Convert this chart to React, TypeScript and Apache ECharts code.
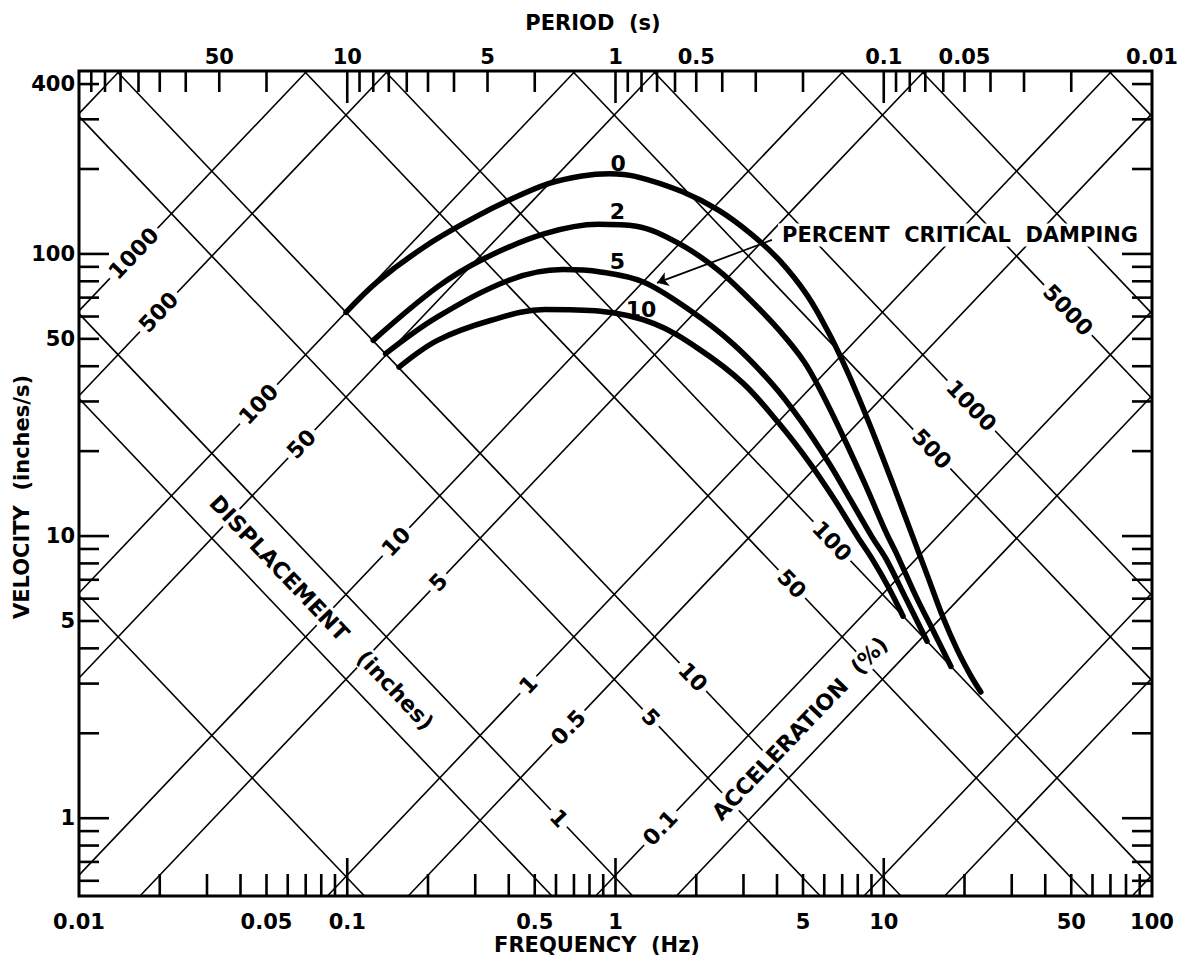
import React, { useEffect, useRef } from "react";
import * as echarts from "echarts";

// ---------- axis ranges ----------
const FREQ_MIN = 0.01;
const FREQ_MAX = 100;
const VEL_MIN = 0.53;
const VEL_MAX = 445;
const G_IN_PER_S2 = 386.09;
const TWO_PI = 2 * Math.PI;
const FONT = '"DejaVu Sans", "Noto Sans", sans-serif';

// ---------- ticks & tick labels ----------
const freqTicks = [0.02, 0.03, 0.04, 0.05, 0.06, 0.07, 0.08, 0.09, 0.1, 0.2, 0.3, 0.4, 0.5, 0.6, 0.7, 0.8, 0.9, 1, 2, 3, 4, 5, 6, 7, 8, 9, 10, 20, 30, 40, 50, 60, 70, 80, 90];
const freqMajor = [0.1, 1, 10];
const freqLabelValues = [0.01, 0.05, 0.1, 0.5, 1, 5, 10, 50, 100];
const freqLabelTexts = ["0.01", "0.05", "0.1", "0.5", "1", "5", "10", "50", "100"];

const periodTicks = [90, 80, 70, 60, 50, 40, 30, 20, 10, 9, 8, 7, 6, 5, 4, 3, 2, 1, 0.9, 0.8, 0.7, 0.6, 0.5, 0.4, 0.3, 0.2, 0.1, 0.09, 0.08, 0.07, 0.06, 0.05, 0.04, 0.03, 0.02];
const periodMajor = [10, 1, 0.1];
const periodLabelAt = [30, 10, 3, 1, 0.5, 0.1, 0.05, 0.01];
const periodLabelTexts = ["50", "10", "5", "1", "0.5", "0.1", "0.05", "0.01"];

const velTicks = [0.6, 0.7, 0.8, 0.9, 1, 2, 3, 4, 5, 6, 7, 8, 9, 10, 20, 30, 40, 50, 60, 70, 80, 90, 100, 200, 300, 400];
const velMajor = [1, 10, 100];
const velLabelValues = [400, 100, 50, 10, 5, 1];
const velLabelTexts = ["400", "100", "50", "10", "5", "1"];

// ---------- tripartite grid ----------
const dispGridValues = [0.001, 0.005, 0.01, 0.05, 0.1, 0.5, 1, 5, 10, 50, 100, 500, 1000, 5000]; // inches
const accGridValues = [0.1, 0.5, 1, 5, 10, 50, 100, 500, 1000, 5000, 10000, 50000]; // percent g

const dispLabelTexts = ["1000", "500", "100", "50", "10", "5", "1", "0.5", "0.1"];
const dispLabelValues = [1000, 500, 100, 50, 10, 5, 1, 0.5, 0.1];
const dispLabelFreq = [0.016, 0.0198, 0.0467, 0.0675, 0.152, 0.2185, 0.473, 0.667, 1.469];

const accLabelTexts = ["5000", "1000", "500", "100", "50", "10", "5", "1"];
const accLabelValues = [5000, 1000, 500, 100, 50, 10, 5, 1];
const accLabelFreq = [48.6, 21.2, 15.1, 6.41, 4.54, 1.942, 1.353, 0.615];

// ---------- response spectra (frequency Hz, velocity in/s) ----------
const damp0Freq = [0.0989, 0.13, 0.2, 0.3, 0.4, 0.562, 0.75, 0.95, 1.195, 1.778, 2.42, 3.19, 4.08, 5.2, 6.27, 7.08, 8.0, 9.33, 10.9, 12.7, 14.5, 16.7, 18.8, 21.1, 23.0];
const damp0Vel = [62.1, 80, 108, 135, 155, 177.5, 189, 192.5, 188, 166, 142.9, 118, 95, 71, 52, 41, 31.5, 22, 15, 10.2, 7.3, 5.1, 3.95, 3.2, 2.8];

const damp2Freq = [0.125, 0.217, 0.323, 0.545, 0.863, 1.195, 1.727, 2.42, 3.19, 4.08, 5.05, 5.89, 7.08, 8.51, 10.2, 11.2, 13.2, 15.5, 17.8];
const damp2Vel = [49.4, 76.4, 96.2, 118, 127.4, 125.4, 108.8, 87.5, 68.5, 53.6, 41.5, 32, 22.4, 15.3, 10.3, 8.6, 6.1, 4.5, 3.45];

const damp5Freq = [0.139, 0.217, 0.401, 0.635, 0.879, 1.27, 1.894, 2.735, 3.83, 4.9, 6.27, 7.53, 9.05, 10.2, 12.0, 14.5];
const damp5Vel = [44.3, 59.8, 80.7, 88, 86.3, 79.5, 63.1, 48.1, 34.7, 25.7, 18.05, 13.4, 9.92, 8.3, 6.1, 4.24];

const damp10Freq = [0.156, 0.217, 0.344, 0.545, 0.879, 1.393, 2.075, 3.0, 4.08, 5.21, 6.46, 8.0, 9.05, 10.4, 11.8];
const damp10Vel = [39.7, 49.4, 58.2, 63.5, 62.6, 56.6, 45.6, 34.7, 25.0, 18.55, 13.75, 9.92, 8.3, 6.6, 5.2];

const dampLabelTexts = ["0", "2", "5", "10"];
const dampLabelFreq = [1.024, 1.017, 1.017, 1.245];
const dampLabelVel = [209.6, 141.2, 93.9, 63.5];

const noteText = "PERCENT  CRITICAL  DAMPING";
const notePos = [4.035, 116.8];
const arrowFrom = [3.83, 112.1];
const arrowTo = [1.428, 78.96];

const dispTitle = "DISPLACEMENT   (inches)";
const dispTitlePos = [0.0802, 5.35];
const accTitle = "ACCELERATION  (%)";
const accTitlePos = [4.87, 2.08];

// ---------- helpers ----------
function dispSegment(D: number) {
  const fLo = Math.max(FREQ_MIN, VEL_MIN / (TWO_PI * D));
  const fHi = Math.min(FREQ_MAX, VEL_MAX / (TWO_PI * D));
  if (fLo >= fHi) return null;
  return [[fLo, TWO_PI * fLo * D], [fHi, TWO_PI * fHi * D]];
}
function accSegment(A: number) {
  const a = (A / 100) * G_IN_PER_S2;
  const fLo = Math.max(FREQ_MIN, a / (TWO_PI * VEL_MAX));
  const fHi = Math.min(FREQ_MAX, a / (TWO_PI * VEL_MIN));
  if (fLo >= fHi) return null;
  return [[fLo, a / (TWO_PI * fLo)], [fHi, a / (TWO_PI * fHi)]];
}

function diagAngle(api: any) {
  const a = api.coord([1, 1]);
  const b = api.coord([10, 10]);
  return Math.atan2(a[1] - b[1], b[0] - a[0]);
}

function textSeries(points: number[][], texts: string[], cfg: any) {
  return {
    type: "custom",
    silent: true,
    clip: false,
    z: cfg.z ?? 6,
    data: points,
    renderItem: (params: any, api: any) => {
      const p = api.coord([api.value(0), api.value(1)]);
      let rotation = 0;
      if (cfg.rot === "disp") rotation = diagAngle(api);
      else if (cfg.rot === "acc") rotation = -diagAngle(api);
      const style: any = {
        text: texts[params.dataIndex],
        fill: "#000",
        fontSize: cfg.size ?? 21,
        fontFamily: FONT,
        fontWeight: "bold",
        align: cfg.align ?? "center",
        verticalAlign: "middle",
      };
      if (cfg.bg) {
        style.backgroundColor = "#fff";
        style.padding = [1, 4];
      }
      return {
        type: "text",
        x: p[0] + (cfg.dx ?? 0),
        y: p[1] + (cfg.dy ?? 0),
        rotation,
        style,
      };
    },
  };
}

function tickSeries(points: number[][], side: string) {
  return {
    type: "custom",
    silent: true,
    clip: false,
    z: 4,
    data: points,
    renderItem: (params: any, api: any) => {
      const p = api.coord([api.value(0), api.value(1)]);
      const major = api.value(2) === 1;
      let x2 = p[0];
      let y2 = p[1];
      if (side === "bottom") y2 = p[1] - (major ? 38 : 22);
      if (side === "top") y2 = p[1] + (major ? 32 : 21);
      if (side === "left") x2 = p[0] + (major ? 30 : 20);
      if (side === "right") x2 = p[0] - (major ? 30 : 20);
      return {
        type: "line",
        shape: { x1: p[0], y1: p[1], x2, y2 },
        style: { stroke: "#000", lineWidth: 2.6 },
      };
    },
  };
}

function curve(freq: number[], vel: number[]) {
  return {
    type: "line",
    data: freq.map((f, i) => [f, vel[i]]),
    smooth: 0.35,
    symbol: "none",
    showSymbol: false,
    silent: true,
    z: 5,
    lineStyle: { color: "#000", width: 5.5, cap: "round", join: "round" },
  };
}

export default function App() {
  const ref = useRef<HTMLDivElement>(null);

  useEffect(() => {
    if (!ref.current) return;
    const chart = echarts.init(ref.current, undefined, { renderer: "svg" });

    const segments: any[] = [];
    dispGridValues.forEach((D) => {
      const s = dispSegment(D);
      if (s) segments.push({ coords: s });
    });
    accGridValues.forEach((A) => {
      const s = accSegment(A);
      if (s) segments.push({ coords: s });
    });

    const hiddenAxis = {
      axisLine: { show: false },
      axisTick: { show: false },
      axisLabel: { show: false },
      splitLine: { show: false },
    };

    const option: any = {
      animation: false,
      backgroundColor: "#fff",
      grid: {
        left: 79,
        top: 71,
        width: 1073,
        height: 825,
        show: true,
        borderColor: "#000",
        borderWidth: 3,
        backgroundColor: "transparent",
      },
      xAxis: { type: "log", logBase: 10, min: FREQ_MIN, max: FREQ_MAX, ...hiddenAxis },
      yAxis: { type: "log", logBase: 10, min: VEL_MIN, max: VEL_MAX, ...hiddenAxis },
      graphic: [
        {
          type: "text",
          x: 593,
          y: 23,
          style: { text: "PERIOD  (s)", fill: "#000", fontSize: 21, fontFamily: FONT, fontWeight: "bold", align: "center", verticalAlign: "middle" },
        },
        {
          type: "text",
          x: 597,
          y: 945,
          style: { text: "FREQUENCY  (Hz)", fill: "#000", fontSize: 21, fontFamily: FONT, fontWeight: "bold", align: "center", verticalAlign: "middle" },
        },
        {
          type: "text",
          x: 22,
          y: 497,
          rotation: Math.PI / 2,
          style: { text: "VELOCITY  (inches/s)", fill: "#000", fontSize: 21, fontFamily: FONT, fontWeight: "bold", align: "center", verticalAlign: "middle" },
        },
      ],
      series: [
        {
          type: "lines",
          coordinateSystem: "cartesian2d",
          silent: true,
          z: 2,
          symbol: "none",
          lineStyle: { color: "#000", width: 1.6, opacity: 1 },
          data: segments,
        },
        tickSeries(freqTicks.map((f) => [f, VEL_MIN, freqMajor.includes(f) ? 1 : 0]), "bottom"),
        tickSeries(periodTicks.map((p) => [1 / p, VEL_MAX, periodMajor.includes(p) ? 1 : 0]), "top"),
        tickSeries(velTicks.map((v) => [FREQ_MIN, v, velMajor.includes(v) ? 1 : 0]), "left"),
        tickSeries(velTicks.map((v) => [FREQ_MAX, v, velMajor.includes(v) ? 1 : 0]), "right"),
        textSeries(freqLabelValues.map((f) => [f, VEL_MIN]), freqLabelTexts, { dy: 26 }),
        textSeries(periodLabelAt.map((p) => [1 / p, VEL_MAX]), periodLabelTexts, { dy: -14 }),
        textSeries(velLabelValues.map((v) => [FREQ_MIN, v]), velLabelTexts, { dx: -4, align: "right" }),
        textSeries(
          dispLabelFreq.map((f, i) => [f, TWO_PI * f * dispLabelValues[i]]),
          dispLabelTexts,
          { rot: "disp", bg: true, size: 22, z: 3 }
        ),
        textSeries(
          accLabelFreq.map((f, i) => [f, ((accLabelValues[i] / 100) * G_IN_PER_S2) / (TWO_PI * f)]),
          accLabelTexts,
          { rot: "acc", bg: true, size: 22, z: 3 }
        ),
        textSeries([dispTitlePos], [dispTitle], { rot: "acc", bg: true, size: 22, z: 3 }),
        textSeries([accTitlePos], [accTitle], { rot: "disp", bg: true, size: 22, z: 3 }),
        curve(damp0Freq, damp0Vel),
        curve(damp2Freq, damp2Vel),
        curve(damp5Freq, damp5Vel),
        curve(damp10Freq, damp10Vel),
        textSeries(dampLabelFreq.map((f, i) => [f, dampLabelVel[i]]), dampLabelTexts, { size: 22, z: 6 }),
        textSeries([notePos], [noteText], { align: "left", bg: true, size: 21, z: 3 }),
        {
          type: "lines",
          coordinateSystem: "cartesian2d",
          silent: true,
          z: 6,
          symbol: ["none", "arrow"],
          symbolSize: 11,
          lineStyle: { color: "#000", width: 1.8, opacity: 1 },
          data: [{ coords: [arrowFrom, arrowTo] }],
        },
      ],
    };

    chart.setOption(option);
    return () => chart.dispose();
  }, []);

  return (
    <div
      ref={ref}
      style={{ position: "absolute", left: 0, top: 0, width: 1192, height: 964, background: "#fff" }}
    />
  );
}
